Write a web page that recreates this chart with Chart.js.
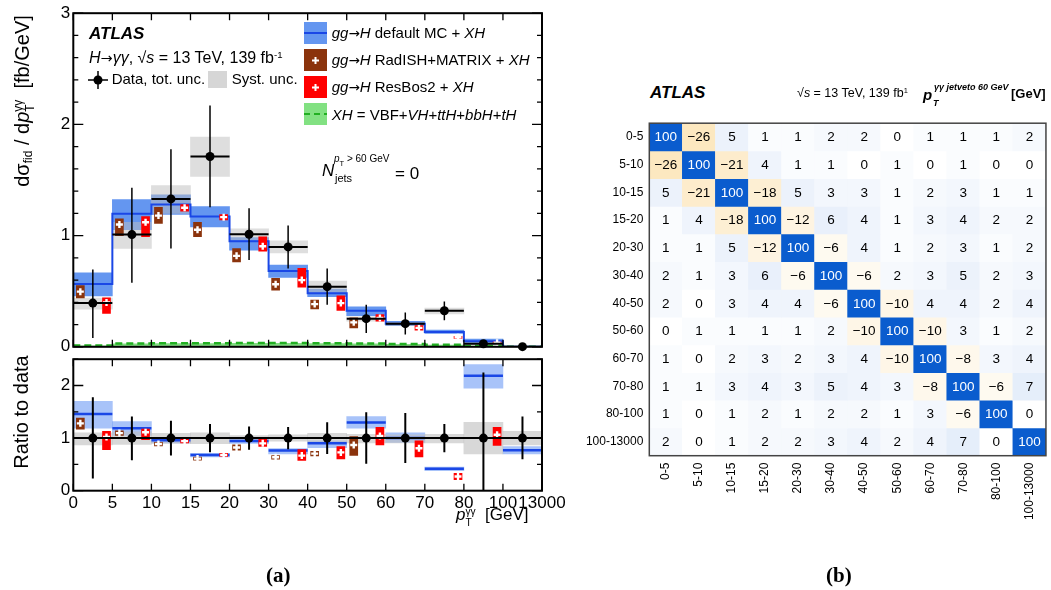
<!DOCTYPE html>
<html>
<head>
<meta charset="utf-8">
<script src="https://cdn.jsdelivr.net/npm/chart.js@4.4.0/dist/chart.umd.min.js"></script>
<style>
  body { margin: 0; background: #fff; width: 1051px; height: 590px; position: relative; overflow: hidden;
         font-family: "Liberation Sans", Arial, sans-serif; color: #000; }
  .box { position: absolute; }
  .t { position: absolute; white-space: nowrap; line-height: 1; }
  .rot { transform: translate(-50%, -50%) rotate(-90deg); }
  .sb { font-size: .6em; vertical-align: -0.3em; }
  .sp { font-size: .6em; vertical-align: 0.55em; }
  .st { display: inline-block; font-size: .6em; line-height: 1; vertical-align: -0.45em; }
  .st span { display: block; }
  .sw { position: absolute; }
  .ar { font-family: "DejaVu Sans", sans-serif; font-size: .9em; }
  .cap { position: absolute; font-family: "Liberation Serif", "DejaVu Serif", serif; font-weight: bold; font-size: 21px; line-height: 1; }
</style>
</head>
<body>
<div class="box" style="left:0;top:0;width:560px;height:360px"><canvas id="cMain"></canvas></div>
<div class="box" style="left:0;top:346px;width:600px;height:244px"><canvas id="cRatio"></canvas></div>
<div class="box" style="left:560px;top:110px;width:491px;height:480px"><canvas id="cMat"></canvas></div>

<!-- panel (a) texts -->
<div class="t rot" style="left:24px;top:101px;font-size:20px">dσ<span class="sb">fid</span> / d<i>p</i><span class="st"><span>γγ</span><span>T</span></span>&nbsp; [fb/GeV]</div>
<div class="t rot" style="left:21px;top:412px;font-size:20px">Ratio to data</div>

<div class="t" style="left:89px;top:24.8px;font-size:17px;font-weight:bold;font-style:italic">ATLAS</div>
<div class="t" style="left:89px;top:49.6px;font-size:16px"><i>H</i><span class="ar">→</span><i>γγ</i>, √<i>s</i> = 13 TeV, 139 fb<span class="sp">-1</span></div>
<svg class="sw" style="left:87px;top:70px" width="22" height="20"><path d="M1 10H21M11 1V19" stroke="#000" stroke-width="1.5"/><circle cx="11" cy="10" r="4.5" fill="#000"/></svg>
<div class="t" style="left:111.7px;top:70.7px;font-size:15px">Data, tot. unc.</div>
<div class="sw" style="left:208px;top:71px;width:19px;height:17px;background:rgb(214,214,214)"></div>
<div class="t" style="left:231.7px;top:70.7px;font-size:15px">Syst. unc.</div>

<svg class="sw" style="left:304px;top:22px" width="23" height="22"><rect width="23" height="22" fill="rgb(100,150,240)"/><path d="M0 11H23" stroke="#1a47e6" stroke-width="2"/></svg>
<div class="t" style="left:331.7px;top:25px;font-size:15px"><i>gg</i><span class="ar">→</span><i>H</i> default MC + <i>XH</i></div>
<svg class="sw" style="left:304px;top:49px" width="23" height="22"><rect width="23" height="22" fill="#8b330c"/><path d="M11.5 8V15M8 11.5H15" stroke="#fff" stroke-width="2"/></svg>
<div class="t" style="left:331.7px;top:52.3px;font-size:15px"><i>gg</i><span class="ar">→</span><i>H</i> RadISH+MATRIX + <i>XH</i></div>
<svg class="sw" style="left:304px;top:76px" width="23" height="22"><rect width="23" height="22" fill="#f00"/><path d="M11.5 8V15M8 11.5H15" stroke="#fff" stroke-width="2"/></svg>
<div class="t" style="left:331.7px;top:79px;font-size:15px"><i>gg</i><span class="ar">→</span><i>H</i> ResBos2 + <i>XH</i></div>
<svg class="sw" style="left:304px;top:103px" width="23" height="22"><rect width="23" height="22" fill="rgb(130,225,130)"/><path d="M0 11H23" stroke="#22b022" stroke-width="2" stroke-dasharray="6 4"/></svg>
<div class="t" style="left:331.7px;top:107.3px;font-size:15px"><i>XH</i> = VBF+<i>VH</i>+<i>ttH</i>+<i>bbH</i>+<i>tH</i></div>

<div class="t" style="left:322px;top:162px;font-size:17px"><i>N</i></div>
<div class="t" style="left:334px;top:154px;font-size:10px"><i>p</i><span style="font-size:.75em;vertical-align:-0.5em">T</span> &gt; 60 GeV</div>
<div class="t" style="left:335px;top:173px;font-size:11px">jets</div>
<div class="t" style="left:395px;top:164.5px;font-size:17px">= 0</div>

<div class="t" style="left:456px;top:506px;font-size:17px"><i>p</i><span class="st" style="vertical-align:-0.55em"><span>γγ</span><span>T</span></span>&nbsp; [GeV]</div>
<div class="cap" style="left:266px;top:565px">(a)</div>

<!-- panel (b) texts -->
<div class="t" style="left:650px;top:84px;font-size:17px;font-weight:bold;font-style:italic">ATLAS</div>
<div class="t" style="left:797px;top:86.5px;font-size:12.5px">√<i>s</i> = 13 TeV, 139 fb<span class="sp">1</span></div>
<div class="t" style="left:923px;top:87px;font-size:15px;font-weight:bold;font-style:italic">p</div>
<div class="t" style="left:934px;top:83px;font-size:9px;font-weight:bold;font-style:italic">γγ jetveto 60 GeV</div>
<div class="t" style="left:933px;top:99px;font-size:9px;font-weight:bold;font-style:italic">T</div>
<div class="t" style="left:1011px;top:86.5px;font-size:13px;font-weight:bold">[GeV]</div>
<div class="cap" style="left:826px;top:565px">(b)</div>

<script>
// ---- bins ----
const edges = ['0', '5', '10', '15', '20', '30', '40', '50', '60', '70', '80', '100', '13000'];
const binLabels = ['0-5', '5-10', '10-15', '15-20', '20-30', '30-40', '40-50', '50-60', '60-70', '70-80', '80-100', '100-13000'];

// ---- upper panel: dsigma/dpT [fb/GeV] ----
const dataVal  = [0.393, 1.009, 1.33, 1.711, 1.012, 0.898, 0.541, 0.253, 0.208, 0.324, 0.027, 0.001];
const dataLo   = [0.08, 0.577, 0.884, 1.256, 0.78, 0.705, 0.378, 0.125, 0.11, 0.238, 0.015, 0];
const dataHi   = [0.696, 1.43, 1.777, 2.17, 1.247, 1.09, 0.705, 0.378, 0.309, 0.407, 0.04, 0.003];
const systLo   = [0.339, 0.884, 1.20, 1.532, 0.964, 0.845, 0.488, 0.23, 0.19, 0.295, 0.02, 0];
const systHi   = [0.438, 1.12, 1.45, 1.887, 1.062, 0.952, 0.592, 0.27, 0.22, 0.348, 0.035, 0.002];
const mcVal    = [0.565, 1.196, 1.28, 1.172, 0.949, 0.681, 0.482, 0.324, 0.208, 0.134, 0.05, 0.001];
const mcLo     = [0.458, 1.054, 1.19, 1.077, 0.869, 0.625, 0.45, 0.28, 0.19, 0.12, 0.04, 0];
const mcHi     = [0.666, 1.324, 1.366, 1.26, 0.982, 0.735, 0.52, 0.36, 0.23, 0.15, 0.07, 0.003];
const radishVal = [0.496, 1.10, 1.18, 1.053, 0.818, 0.563, 0.384, 0.22, null, null, null, null];
const radishLo  = [0.44, 1.00, 1.11, 0.99, 0.764, 0.51, 0.34, 0.17, null, null, null, null];
const radishHi  = [0.55, 1.15, 1.255, 1.12, 0.884, 0.616, 0.42, 0.26, null, null, null, null];
const resbosVal = [0.398, 1.12, 1.25, 1.166, 0.904, 0.60, 0.393, 0.259, 0.17, 0.086, 0.036, null];
const resbosLo  = [0.30, 0.99, 1.22, 1.14, 0.86, 0.536, 0.327, 0.23, 0.15, 0.075, 0.03, null];
const resbosHi  = [0.44, 1.17, 1.28, 1.19, 0.99, 0.705, 0.458, 0.29, 0.19, 0.095, 0.042, null];
const xhVal    = [0.012, 0.03, 0.032, 0.033, 0.034, 0.035, 0.033, 0.03, 0.025, 0.018, 0.01, 0.0];

// ---- lower panel: ratio to data ----
const ratioData   = [1, 1, 1, 1, 1, 1, 1, 1, 1, 1, 1, 1];
const ratioDataLo = [0.23, 0.58, 0.667, 0.73, 0.78, 0.79, 0.70, 0.51, 0.525, 0.73, -0.3, 0.6];
const ratioDataHi = [1.775, 1.41, 1.33, 1.27, 1.22, 1.21, 1.30, 1.49, 1.475, 1.27, 2.245, 1.41];
const ratioSystLo = [0.87, 0.88, 0.90, 0.895, 0.953, 0.94, 0.90, 0.91, 0.91, 0.91, 0.70, 0.87];
const ratioSystHi = [1.10, 1.12, 1.09, 1.10, 1.05, 1.06, 1.09, 1.07, 1.06, 1.07, 1.30, 1.13];
const ratioMc     = [1.457, 1.187, 0.96, 0.68, 0.943, 0.765, 0.9, 1.297, 1.0, 0.417, 2.184, 0.77];
const ratioMcLo   = [1.187, 1.05, 0.91, 0.64, 0.90, 0.70, 0.82, 1.19, 0.92, 0.38, 1.95, 0.70];
const ratioMcHi   = [1.70, 1.315, 0.99, 0.71, 0.98, 0.80, 0.95, 1.41, 1.10, 0.45, 2.40, 0.84];
const ratioRadish   = [1.28, 1.095, 0.887, 0.61, 0.82, 0.636, 0.705, 0.87, null, null, null, null];
const ratioRadishLo = [1.17, 1.05, 0.85, 0.58, 0.77, 0.60, 0.66, 0.67, null, null, null, null];
const ratioRadishHi = [1.38, 1.14, 0.92, 0.64, 0.87, 0.67, 0.75, 1.03, null, null, null, null];
const ratioResbos   = [1.02, 1.11, 0.943, 0.68, 0.90, 0.667, 0.728, 1.04, 0.807, 0.27, 1.064, null];
const ratioResbosLo = [0.78, 0.97, 0.91, 0.65, 0.84, 0.576, 0.605, 0.87, 0.64, 0.21, 0.86, null];
const ratioResbosHi = [1.13, 1.17, 0.98, 0.71, 0.98, 0.78, 0.84, 1.205, 0.95, 0.33, 1.205, null];

// ---- correlation matrix [%] (rows top to bottom) ----
const corr = [
  [100, -26, 5, 1, 1, 2, 2, 0, 1, 1, 1, 2],
  [-26, 100, -21, 4, 1, 1, 0, 1, 0, 1, 0, 0],
  [5, -21, 100, -18, 5, 3, 3, 1, 2, 3, 1, 1],
  [1, 4, -18, 100, -12, 6, 4, 1, 3, 4, 2, 2],
  [1, 1, 5, -12, 100, -6, 4, 1, 2, 3, 1, 2],
  [2, 1, 3, 6, -6, 100, -6, 2, 3, 5, 2, 3],
  [2, 0, 3, 4, 4, -6, 100, -10, 4, 4, 2, 4],
  [0, 1, 1, 1, 1, 2, -10, 100, -10, 3, 1, 2],
  [1, 0, 2, 3, 2, 3, 4, -10, 100, -8, 3, 4],
  [1, 1, 3, 4, 3, 5, 4, 3, -8, 100, -6, 7],
  [1, 0, 1, 2, 1, 2, 2, 1, 3, -6, 100, 0],
  [2, 0, 1, 2, 2, 3, 4, 2, 4, 7, 0, 100],
];

Chart.defaults.font.family = '"Liberation Sans", Arial, sans-serif';
Chart.defaults.color = '#000';
Chart.defaults.animation = false;
Chart.defaults.events = [];
Chart.defaults.plugins.legend.display = false;
Chart.defaults.plugins.tooltip.enabled = false;

// helpers turning per-bin arrays into points for the library
const stepPts = vals => vals.flatMap((v, i) => [{ x: i, y: v }, { x: i + 1, y: v }]);
const segPts = vals => vals.flatMap((v, i) => v == null ? [] : [{ x: i, y: v }, { x: i + 1, y: v }, { x: i + 1, y: null }]);
const vErr = (lo, hi) => lo.flatMap((l, i) => [{ x: i + .5, y: l }, { x: i + .5, y: hi[i] }, { x: i + .5, y: null }]);
const boxes = (lo, hi, off) => lo.map((l, i) => l == null ? null : { x: i + off, y: [l, hi[i]] }).filter(Boolean);
const pts = (vals, off) => vals.map((v, i) => v == null ? null : { x: i + off, y: v }).filter(Boolean);
const isInt = v => Math.abs(v - Math.round(v)) < 1e-6;

const OFF_RAD = 0.18, OFF_RES = 0.85;
const BLUE = '#1a47e6', BROWN = '#8b330c', RED = '#ff0000';

// frame with inward ticks on all sides (ATLAS style)
const frame = {
  id: 'frame',
  afterDraw(chart, args, o) {
    const { ctx, chartArea: a, scales } = chart;
    ctx.save();
    ctx.strokeStyle = o.color || '#000';
    ctx.lineWidth = 1.3;
    ctx.beginPath();
    if (o.xTick) scales.x.ticks.forEach(t => {
      const p = scales.x.getPixelForValue(t.value);
      ctx.moveTo(p, a.bottom); ctx.lineTo(p, a.bottom - o.xTick);
      ctx.moveTo(p, a.top); ctx.lineTo(p, a.top + o.xTick);
    });
    if (o.yMajor) scales.y.ticks.forEach(t => {
      const p = scales.y.getPixelForValue(t.value);
      const len = isInt(t.value) ? o.yMajor : o.yMinor;
      ctx.moveTo(a.left, p); ctx.lineTo(a.left + len, p);
      ctx.moveTo(a.right, p); ctx.lineTo(a.right - len, p);
    });
    ctx.stroke();
    ctx.lineWidth = o.width || 2;
    ctx.strokeRect(a.left, a.top, a.right - a.left, a.bottom - a.top);
    ctx.restore();
  }
};

const barOpts = { grouped: false, categoryPercentage: 1, barPercentage: 1, borderWidth: 0 };
const noGrid = { display: false, drawTicks: false, offset: false };

function histScales(yMax, yStep, showX, yW, xH) {
  return {
    x: {
      type: 'linear', min: 0, max: 12, offset: false, display: showX,
      grid: noGrid, border: { display: false },
      ticks: { stepSize: 1, autoSkip: false, maxRotation: 0, font: { size: 17 }, padding: 2,
               callback: v => edges[v] },
      afterFit: s => { s.height = xH; },
    },
    xb: { type: 'linear', min: 0, max: 12, offset: false, display: false, grid: { offset: false }, ticks: { stepSize: 1 } },
    y: {
      min: 0, max: yMax, grid: noGrid, border: { display: false },
      ticks: { stepSize: yStep, autoSkip: false, font: { size: 17 }, padding: 3,
               callback: v => isInt(v) ? String(Math.round(v)) : '' },
      afterFit: s => { s.width = yW; },
    },
  };
}

// ---- (a) upper panel ----
new Chart(document.getElementById('cMain'), {
  type: 'bar',
  data: {
    datasets: [
      { type: 'line', data: stepPts(xhVal), borderColor: '#22b022', borderWidth: 2.5, borderDash: [7, 4],
        fill: 'origin', backgroundColor: 'rgba(110,215,110,0.85)', pointRadius: 0, order: 10 },
      { ...barOpts, data: boxes(mcLo, mcHi, .5), xAxisID: 'xb', backgroundColor: 'rgb(100,150,240)', order: 9 },
      { ...barOpts, data: boxes(systLo, systHi, .5), xAxisID: 'xb', backgroundColor: 'rgba(190,190,190,0.5)', order: 8 },
      { type: 'line', data: stepPts(mcVal), borderColor: BLUE, borderWidth: 2, pointRadius: 0, order: 7 },
      { ...barOpts, data: boxes(radishLo, radishHi, OFF_RAD), barThickness: 8, backgroundColor: BROWN, order: 6 },
      { ...barOpts, data: boxes(resbosLo, resbosHi, OFF_RES), barThickness: 8, backgroundColor: RED, order: 5 },
      { type: 'scatter', data: [...pts(radishVal, OFF_RAD), ...pts(resbosVal, OFF_RES)], pointStyle: 'cross',
        pointRadius: 3.5, borderWidth: 2.4, borderColor: '#fff', order: 4 },
      { type: 'line', data: segPts(dataVal), borderColor: '#000', borderWidth: 2, pointRadius: 0, order: 3 },
      { type: 'line', data: vErr(dataLo, dataHi), borderColor: '#000', borderWidth: 1.5, pointRadius: 0, order: 2 },
      { type: 'scatter', data: pts(dataVal, .5), pointRadius: 4.5, backgroundColor: '#000', borderWidth: 0, clip: false, order: 1 },
    ],
  },
  options: {
    responsive: true, maintainAspectRatio: false, devicePixelRatio: 1,
    layout: { padding: { top: 11.7, right: 18, bottom: 12.7, left: 0 } },
    scales: histScales(3, 0.2, false, 73.3, 0),
    plugins: { frame: { xTick: 7, yMajor: 10, yMinor: 5 } },
  },
  plugins: [frame],
});

// ---- (a) ratio panel ----
new Chart(document.getElementById('cRatio'), {
  type: 'bar',
  data: {
    datasets: [
      { ...barOpts, data: boxes(ratioMcLo, ratioMcHi, .5), xAxisID: 'xb', backgroundColor: 'rgba(110,155,245,0.6)', order: 9 },
      { ...barOpts, data: boxes(ratioSystLo, ratioSystHi, .5), xAxisID: 'xb', backgroundColor: 'rgba(190,190,190,0.6)', order: 8 },
      { type: 'line', data: segPts(ratioMc), borderColor: BLUE, borderWidth: 2.5, pointRadius: 0, order: 7 },
      { ...barOpts, data: boxes(ratioRadishLo, ratioRadishHi, OFF_RAD), barThickness: 8, backgroundColor: BROWN, order: 6 },
      { ...barOpts, data: boxes(ratioResbosLo, ratioResbosHi, OFF_RES), barThickness: 8, backgroundColor: RED, order: 5 },
      { type: 'scatter', data: [...pts(ratioRadish, OFF_RAD), ...pts(ratioResbos, OFF_RES)], pointStyle: 'cross',
        pointRadius: 3.5, borderWidth: 2.4, borderColor: '#fff', order: 4 },
      { type: 'line', data: segPts(ratioData), borderColor: '#000', borderWidth: 2, pointRadius: 0, order: 3 },
      { type: 'line', data: vErr(ratioDataLo, ratioDataHi), borderColor: '#000', borderWidth: 2, pointRadius: 0, order: 2 },
      { type: 'scatter', data: pts(ratioData, .5), pointRadius: 4.5, backgroundColor: '#000', borderWidth: 0, order: 1 },
    ],
  },
  options: {
    responsive: true, maintainAspectRatio: false, devicePixelRatio: 1,
    layout: { padding: { top: 9, right: 58, bottom: 0, left: 0 } },
    scales: histScales(2.5, 0.5, true, 73.3, 99.3),
    plugins: { frame: { xTick: 7, yMajor: 10, yMinor: 5 } },
  },
  plugins: [frame],
});

// ---- (b) correlation matrix ----
function mix(a, b, t) {
  return 'rgb(' + a.map((c, k) => Math.round(c + (b[k] - c) * t)).join(',') + ')';
}
function cellColor(v) {
  if (v >= 0) return mix([255, 255, 255], [10, 92, 206], Math.pow(v / 100, 0.85));
  return mix([255, 255, 255], [252, 232, 192], Math.min(1, -v / 26));
}

const cellText = {
  id: 'cellText',
  afterDatasetsDraw(chart) {
    const ctx = chart.ctx;
    ctx.save();
    ctx.font = '13.5px "Liberation Sans", Arial, sans-serif';
    ctx.textAlign = 'center';
    ctx.textBaseline = 'middle';
    chart.data.datasets.forEach((ds, r) => {
      chart.getDatasetMeta(r).data.forEach((el, j) => {
        const v = corr[r][j];
        ctx.fillStyle = v >= 60 ? '#fff' : '#000';
        ctx.fillText(v < 0 ? '\u2212' + (-v) : String(v), el.x, (el.y + el.base) / 2 + 0.5);
      });
    });
    ctx.restore();
  }
};

new Chart(document.getElementById('cMat'), {
  type: 'bar',
  data: {
    labels: binLabels,
    datasets: corr.map((row, r) => ({
      ...barOpts,
      data: row.map(() => [r, r + 1]),
      backgroundColor: row.map(cellColor),
    })),
  },
  options: {
    responsive: true, maintainAspectRatio: false, devicePixelRatio: 1,
    layout: { padding: { top: 7.7, right: 4.3, bottom: 0, left: 0 } },
    scales: {
      x: {
        grid: noGrid, border: { display: false },
        ticks: { autoSkip: false, minRotation: 90, maxRotation: 90, font: { size: 12 }, padding: 7 },
        afterFit: s => { s.height = 134.3; },
      },
      y: {
        type: 'linear', min: 0, max: 12, reverse: true,
        grid: noGrid, border: { display: false },
        afterBuildTicks: s => { s.ticks = binLabels.map((_, k) => ({ value: k + 0.5 })); },
        ticks: { autoSkip: false, font: { size: 12 }, padding: 6, callback: (v, i) => binLabels[i] },
        afterFit: s => { s.width = 89.3; },
      },
    },
    plugins: { frame: { color: '#444', width: 1.5 } },
  },
  plugins: [cellText, frame],
});
</script>
</body>
</html>
